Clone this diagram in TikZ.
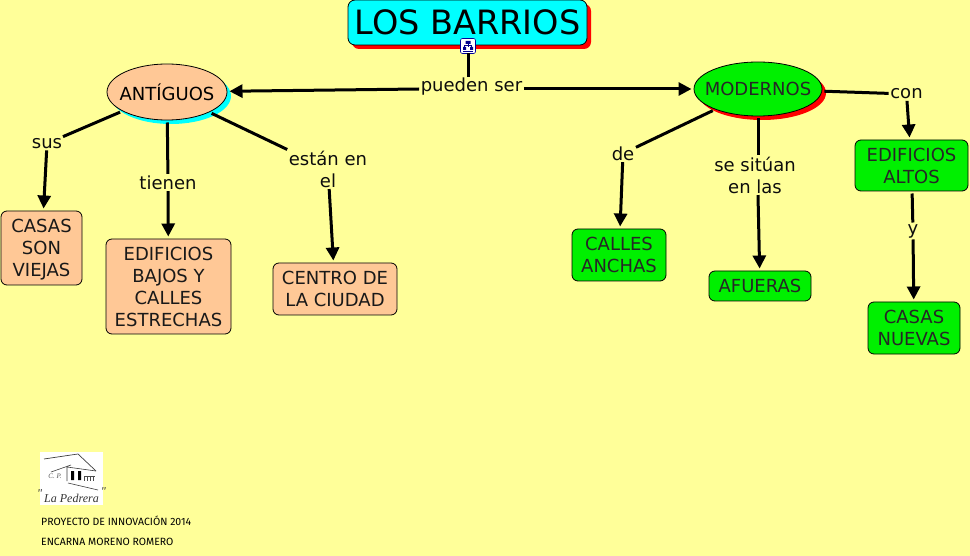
\documentclass[tikz,border=0pt]{standalone}
\usepackage{fontspec}
\setmainfont{DejaVu Sans}
\newfontfamily\smallhand{Fira Sans}
\newfontfamily\logofont{Liberation Serif}
\usetikzlibrary{shapes.geometric,arrows.meta,shadows}
\definecolor{bgy}{HTML}{FFFF99}
\definecolor{peach}{HTML}{FFC896}
\definecolor{lime}{HTML}{00F000}
\definecolor{aqua}{HTML}{00FFFF}
\definecolor{redd}{HTML}{FF0000}
\tikzset{
  x=1pt,y=-1pt,
  concept/.style={draw=black,line width=0.8pt,rounded corners=6pt,inner sep=0pt,align=center,outer sep=2.5pt,font=\fontsize{18}{22}\selectfont},
  oldbox/.style={concept,fill=peach,text=black!90},
  newbox/.style={concept,fill=lime,text=black!85},
  oval/.style={draw=black,line width=0.8pt,ellipse,inner sep=0pt,outer sep=2.5pt,font=\fontsize{18}{22}\selectfont},
  linkword/.style={inner sep=1.5pt,align=center,font=\fontsize{18}{22}\selectfont,text=black!95},
  link/.style={line width=3pt,draw=black},
  arrowlink/.style={link,-{Triangle[length=13pt,width=13pt]}},
  foot/.style={anchor=west,inner sep=0pt,font=\smallhand\fontsize{10.5}{12}\selectfont,text=black}
}
\begin{document}
\begin{tikzpicture}
\useasboundingbox (0,0) rectangle (970,556);
\fill[bgy] (0,0) rectangle (970,556);
% concepts
\node[concept,minimum width=239pt,minimum height=45pt,fill=aqua,rounded corners=7pt,font=\fontsize{33.5}{36}\selectfont,
  drop shadow={shadow xshift=4pt,shadow yshift=-4pt,fill=redd,opacity=1},outer sep=0pt] (title) at (467.5,22.5) {LOS BARRIOS};
\node[oval,fill=peach,minimum width=120pt,minimum height=56pt,
  drop shadow={shadow xshift=4pt,shadow yshift=-4pt,fill=aqua,opacity=1}] (ant) at (167,92) {\makebox[0pt]{ANTÍGUOS}};
\node[oval,fill=lime,minimum width=128pt,minimum height=54pt,text=black!85,
  drop shadow={shadow xshift=4pt,shadow yshift=-4pt,fill=redd,opacity=1}] (mod) at (758,89) {\makebox[0pt]{MODERNOS}};
\node[oldbox,minimum width=81pt,minimum height=74pt] (casas) at (41.5,248) {\rule{0pt}{17pt}CASAS\\SON\\VIEJAS};
\node[oldbox,minimum width=125pt,minimum height=95pt] (bajos) at (168.5,286.5) {EDIFICIOS\\BAJOS Y\\CALLES\\ESTRECHAS};
\node[oldbox,minimum width=124pt,minimum height=52pt] (centro) at (335,289) {CENTRO DE\\LA CIUDAD};
\node[newbox,minimum width=94pt,minimum height=52pt] (anchas) at (619,255) {CALLES\\ANCHAS};
\node[newbox,minimum width=102pt,minimum height=30pt] (afueras) at (760,286) {AFUERAS};
\node[newbox,minimum width=113pt,minimum height=51pt] (altos) at (911.5,165.5) {EDIFICIOS\\ALTOS};
\node[newbox,minimum width=92pt,minimum height=52pt] (nuevas) at (914,328) {CASAS\\NUEVAS};
% linking words
\node[linkword] (pueden) at (471.5,87) {pueden ser};
\node[linkword] (sus) at (47,143.5) {sus};
\node[linkword] (tienen) at (168,182.5) {tienen};
\node[linkword] (esta) at (328,169) {están en\\el};
\node[linkword] (de) at (623,153.5) {de};
\node[linkword] (situan) at (755,175) {se sitúan\\en las};
\node[linkword] (con) at (906.5,94) {con};
\node[linkword] (yy) at (913,231) {y};
% expand icon
\node[draw=blue!60!black,fill=white,rounded corners=2pt,line width=0.6pt,minimum size=15pt,inner sep=0pt,outer sep=0pt] (icon) at (468,46) {};
\fill[blue!55!black] (465.5,41) rectangle (470.5,44) (463,47) rectangle (466,50) (470,47) rectangle (473,50);
\draw[blue!55!black,line width=0.7pt] (468,44) -- (468,47) (464.5,47) -- (464.5,45.5) -- (471.5,45.5) -- (471.5,47) (463,51.5) -- (473,51.5);
% connectors
\draw[link] (icon) -- (icon |- pueden.north);
\draw[arrowlink] ([yshift=-2pt]pueden.west) -- (ant);
\draw[arrowlink] ([yshift=-2pt]pueden.east) -- (mod);
\draw[link] (ant) -- (sus);
\draw[arrowlink] (sus) -- (casas);
\draw[link] (ant) -- (tienen);
\draw[arrowlink] (tienen) -- (bajos);
\draw[link] (ant) -- (esta);
\draw[arrowlink] (esta) -- (centro);
\draw[link] (mod) -- (de);
\draw[arrowlink] (de) -- (anchas);
\draw[link] (mod) -- (mod |- situan.north);
\draw[arrowlink] (situan.south -| mod) -- (afueras);
\draw[link] (mod) -- (con);
\draw[arrowlink] (con) -- (altos);
\draw[link] (altos) -- (yy);
\draw[arrowlink] (yy) -- (nuevas);
% logo
\fill[white] (40,452) rectangle (103,505);
\draw[black!75,line width=0.7pt] (44,459) -- (71,455) -- (78,454) -- (96,471);
\draw[black!75,line width=0.6pt] (51,472) -- (71,465) (67,467) -- (96,471) (67,467) -- (67,481) (68,483) -- (98,490);
\fill[black] (71,471) rectangle (74,480) (78,471) rectangle (81,480);
\draw[black!70,line width=0.6pt] (84,476) -- (95,476) (84,476) -- (84,481) (87,476) -- (87,481) (90,476) -- (90,481) (93,476) -- (93,481);
\node[inner sep=0pt,font=\logofont\itshape\fontsize{7}{8}\selectfont,text=black!65] (cp) at (55,476) {C. P.};
\node[inner sep=0pt,font=\logofont\itshape\fontsize{12}{12}\selectfont,text=black!80] (pedrera) at (71.5,495) {\raisebox{5pt}{"}\,La Pedrera\,\raisebox{7pt}{"}};
% footer
\node[foot] (proy) at (41,521) {PROYECTO DE INNOVACIÓN 2014};
\node[foot] (enc) at (41,542) {ENCARNA MORENO ROMERO};
\end{tikzpicture}
\end{document}
